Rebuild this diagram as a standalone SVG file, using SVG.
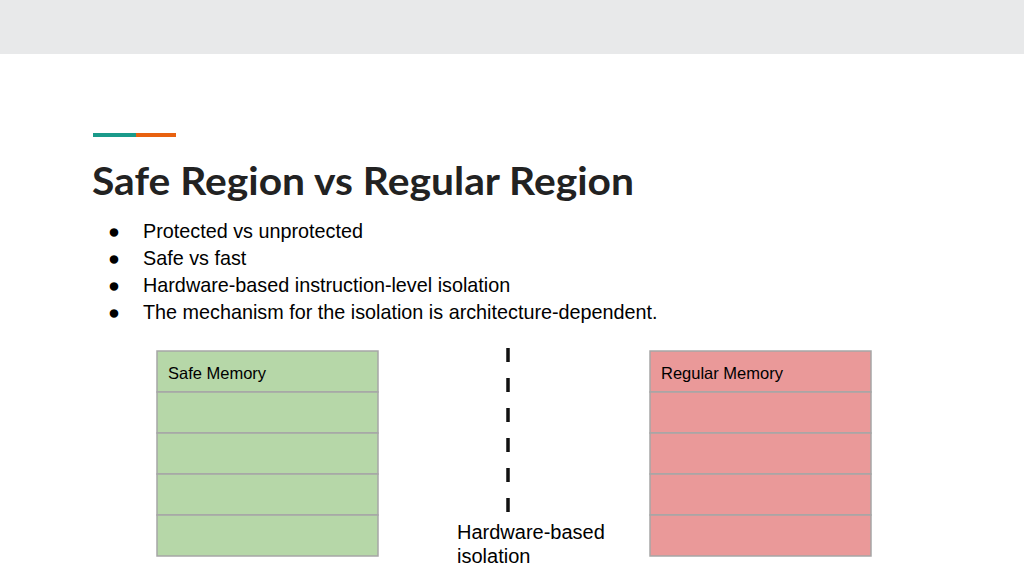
<svg xmlns="http://www.w3.org/2000/svg" width="1024" height="576" viewBox="0 0 1024 576">
<style>
.t{font-family:"Liberation Sans",Arial,sans-serif;fill:#000}
.b{font-size:19.8px}
.cell{stroke:#a6a6a6;stroke-width:1.5}
.safe{fill:#b6d7a8}
.reg{fill:#ea9999}
</style>
<rect width="1024" height="576" fill="#ffffff"/>
<rect x="0" y="0" width="1024" height="54" fill="#e8e9ea"/>
<rect x="93" y="133" width="43" height="4" fill="#1a9a8a"/>
<rect x="136" y="133" width="40" height="4" fill="#e8610f"/>
<text x="92" y="195" font-family="Lato,'Noto Sans',sans-serif" font-weight="bold" font-size="39" fill="#222" textLength="542" lengthAdjust="spacingAndGlyphs">Safe Region vs Regular Region</text>
<g class="t b">
<text x="108" y="238">●</text><text x="143" y="238">Protected vs unprotected</text>
<text x="108" y="265">●</text><text x="143" y="265">Safe vs fast</text>
<text x="108" y="292">●</text><text x="143" y="292">Hardware-based instruction-level isolation</text>
<text x="108" y="319">●</text><text x="143" y="319">The mechanism for the isolation is architecture-dependent.</text>
</g>
<g id="safe-memory">
<rect class="cell safe" x="157" y="351" width="221" height="41"/>
<rect class="cell safe" x="157" y="392" width="221" height="41"/>
<rect class="cell safe" x="157" y="433" width="221" height="41"/>
<rect class="cell safe" x="157" y="474" width="221" height="41"/>
<rect class="cell safe" x="157" y="515" width="221" height="41"/>
<text class="t" x="168" y="379" font-size="16.5">Safe Memory</text>
</g>
<g id="regular-memory">
<rect class="cell reg" x="650" y="351" width="221" height="41"/>
<rect class="cell reg" x="650" y="392" width="221" height="41"/>
<rect class="cell reg" x="650" y="433" width="221" height="41"/>
<rect class="cell reg" x="650" y="474" width="221" height="41"/>
<rect class="cell reg" x="650" y="515" width="221" height="41"/>
<text class="t" x="661" y="379" font-size="16.5">Regular Memory</text>
</g>
<g id="connectors">
<line x1="508" y1="348" x2="508" y2="514" stroke="#111" stroke-width="3.5" stroke-dasharray="14 16"/>
</g>
<g id="isolation-label">
<text class="t" x="457" y="539" font-size="20">Hardware-based</text>
<text class="t" x="457" y="563" font-size="20">isolation</text>
</g>
</svg>
